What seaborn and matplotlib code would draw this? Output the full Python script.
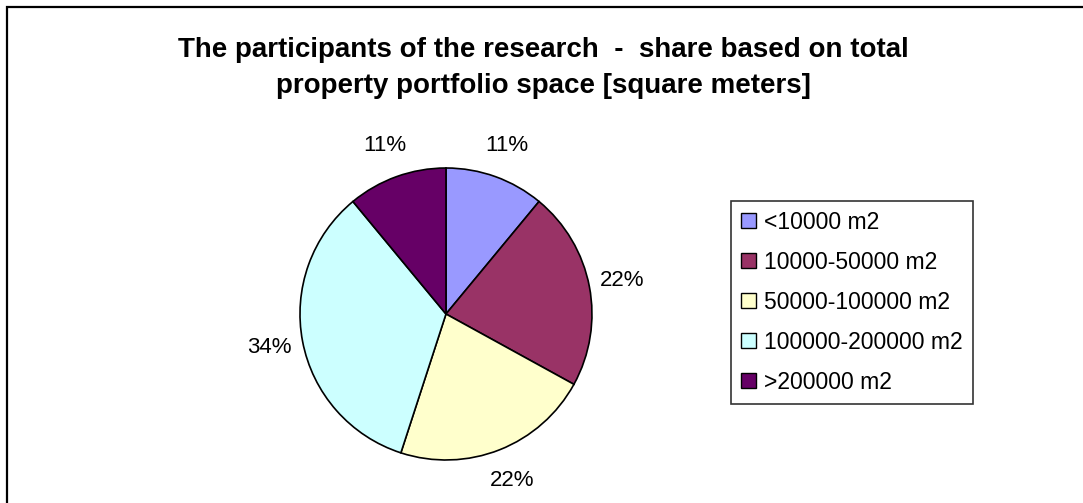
import matplotlib
matplotlib.use("Agg")
import matplotlib.pyplot as plt
import matplotlib.patches as mpatches
import seaborn as sns

categories = ["<10000 m2", "10000-50000 m2", "50000-100000 m2",
              "100000-200000 m2", ">200000 m2"]
shares = [11, 22, 22, 34, 11]
pct_labels = ["11%", "22%", "22%", "34%", "11%"]
colors = ["#9999FF", "#993366", "#FFFFCC", "#CCFFFF", "#660066"]

sns.set_theme(style="white", rc={"text.color": "black"})
plt.rcParams["font.family"] = ["Liberation Sans", "DejaVu Sans"]

fig = plt.figure(figsize=(10.83, 5.03), dpi=100)
ax = fig.add_axes([0.277, 0.0855, 0.2696, 0.5805])

wedges, texts = ax.pie(shares, colors=colors, startangle=90, counterclock=False,
                       labels=pct_labels, labeldistance=1.23,
                       wedgeprops=dict(edgecolor="black", linewidth=1.2),
                       textprops=dict(fontsize=16, color="black"))
for t in texts:
    t.set_ha("center")
    t.set_va("center")
ax.set_xlim(-1, 1)
ax.set_ylim(-1, 1)
ax.set_aspect("equal")

fig.text(0.502, 0.900, "The participants of the research  -  share based on total",
         ha="center", va="center", fontsize=20, fontweight="bold")
fig.text(0.502, 0.830, "property portfolio space [square meters]",
         ha="center", va="center", fontsize=20, fontweight="bold")

handles = [mpatches.Patch(facecolor=c, edgecolor="black", linewidth=1.0) for c in colors]
leg = fig.legend(handles, categories, loc="center left", bbox_to_anchor=(0.675, 0.399),
                 fontsize=16.5, frameon=True, fancybox=False, handlelength=0.65,
                 handleheight=0.65, handletextpad=0.35, labelspacing=0.74,
                 borderpad=0.45, borderaxespad=0)
leg.get_frame().set_edgecolor("black")
leg.get_frame().set_linewidth(1.2)

# outer chart border (cropped at right and bottom)
border = mpatches.Rectangle((7 / 1083, -0.05), 1.1, 1 - 7 / 503 + 0.05,
                            transform=fig.transFigure, fill=False,
                            edgecolor="black", linewidth=1.6)
fig.patches.append(border)

fig.savefig("out.png", dpi=100)
